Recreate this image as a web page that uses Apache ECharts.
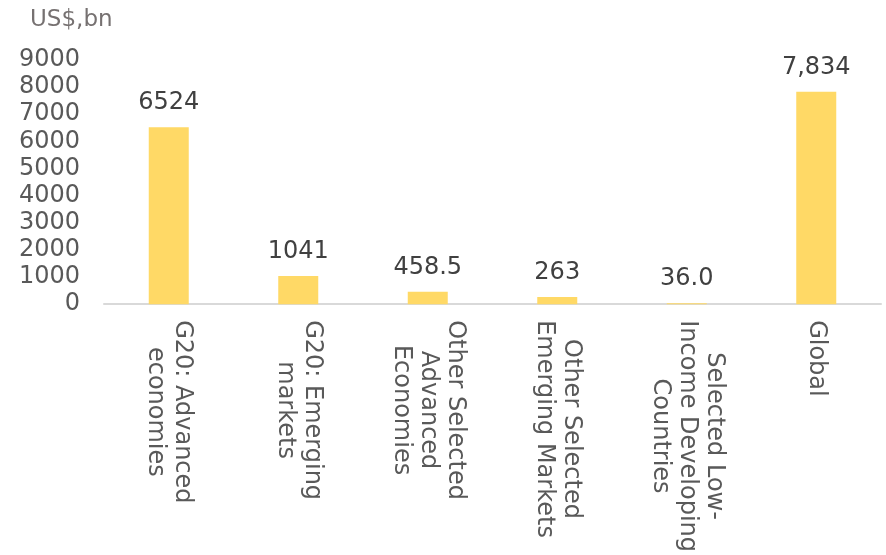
<!DOCTYPE html>
<html>
<head>
<meta charset="utf-8">
<script src="https://cdn.jsdelivr.net/npm/echarts@6/dist/echarts.min.js"></script>
<style>html,body{margin:0;padding:0;background:#fff}#c{width:886px;height:555px}</style>
</head>
<body>
<div id="c"></div>
<script>
const categories = ['G20: Advanced\neconomies', 'G20: Emerging\nmarkets', 'Other Selected\nAdvanced\nEconomies', 'Other Selected\nEmerging Markets', 'Selected Low-\nIncome Developing\nCountries', 'Global'];
const values = [6524, 1041, 458.5, 263, 36.0, 7834];
const valueLabels = ['6524', '1041', '458.5', '263', '36.0', '7,834'];
const yTicks = [0, 1000, 2000, 3000, 4000, 5000, 6000, 7000, 8000, 9000];
const unitLabel = 'US$,bn';

const FONT = 'DejaVu Sans';
const chart = echarts.init(document.getElementById('c'), null, {renderer: 'canvas'});
chart.setOption({
  animation: false,
  backgroundColor: '#ffffff',
  title: {
    text: unitLabel, left: 25, top: 4,
    textStyle: {fontFamily: FONT, fontSize: 23, fontWeight: 'normal', color: '#767171'}
  },
  grid: {left: 104, right: 5, top: 60, bottom: 250, containLabel: false},
  xAxis: {
    type: 'category', data: categories,
    axisLine: {show: true, lineStyle: {color: '#D9D9D9', width: 2}},
    axisTick: {show: false},
    axisLabel: {
      rotate: -90, margin: 16, interval: 0,
      fontFamily: FONT, fontSize: 24, color: '#595959', lineHeight: 27,
      formatter: v => v.split('\n').map(l => '{c|' + l + '}').join('\n'),
      rich: {c: {align: 'center', fontFamily: FONT, fontSize: 24, color: '#595959', lineHeight: 27}}
    }
  },
  yAxis: {
    type: 'value', min: 0, max: yTicks[yTicks.length - 1], interval: 1000,
    axisLine: {show: false}, axisTick: {show: false}, splitLine: {show: false},
    axisLabel: {margin: 24, fontFamily: FONT, fontSize: 24, color: '#595959', formatter: v => String(v)}
  },
  series: [{
    type: 'bar', data: values, barWidth: 40,
    itemStyle: {color: '#FFD966'},
    label: {
      show: true, position: 'top', distance: 12,
      fontFamily: FONT, fontSize: 24, color: '#404040',
      formatter: p => valueLabels[p.dataIndex]
    }
  }]
});
</script>
</body>
</html>
